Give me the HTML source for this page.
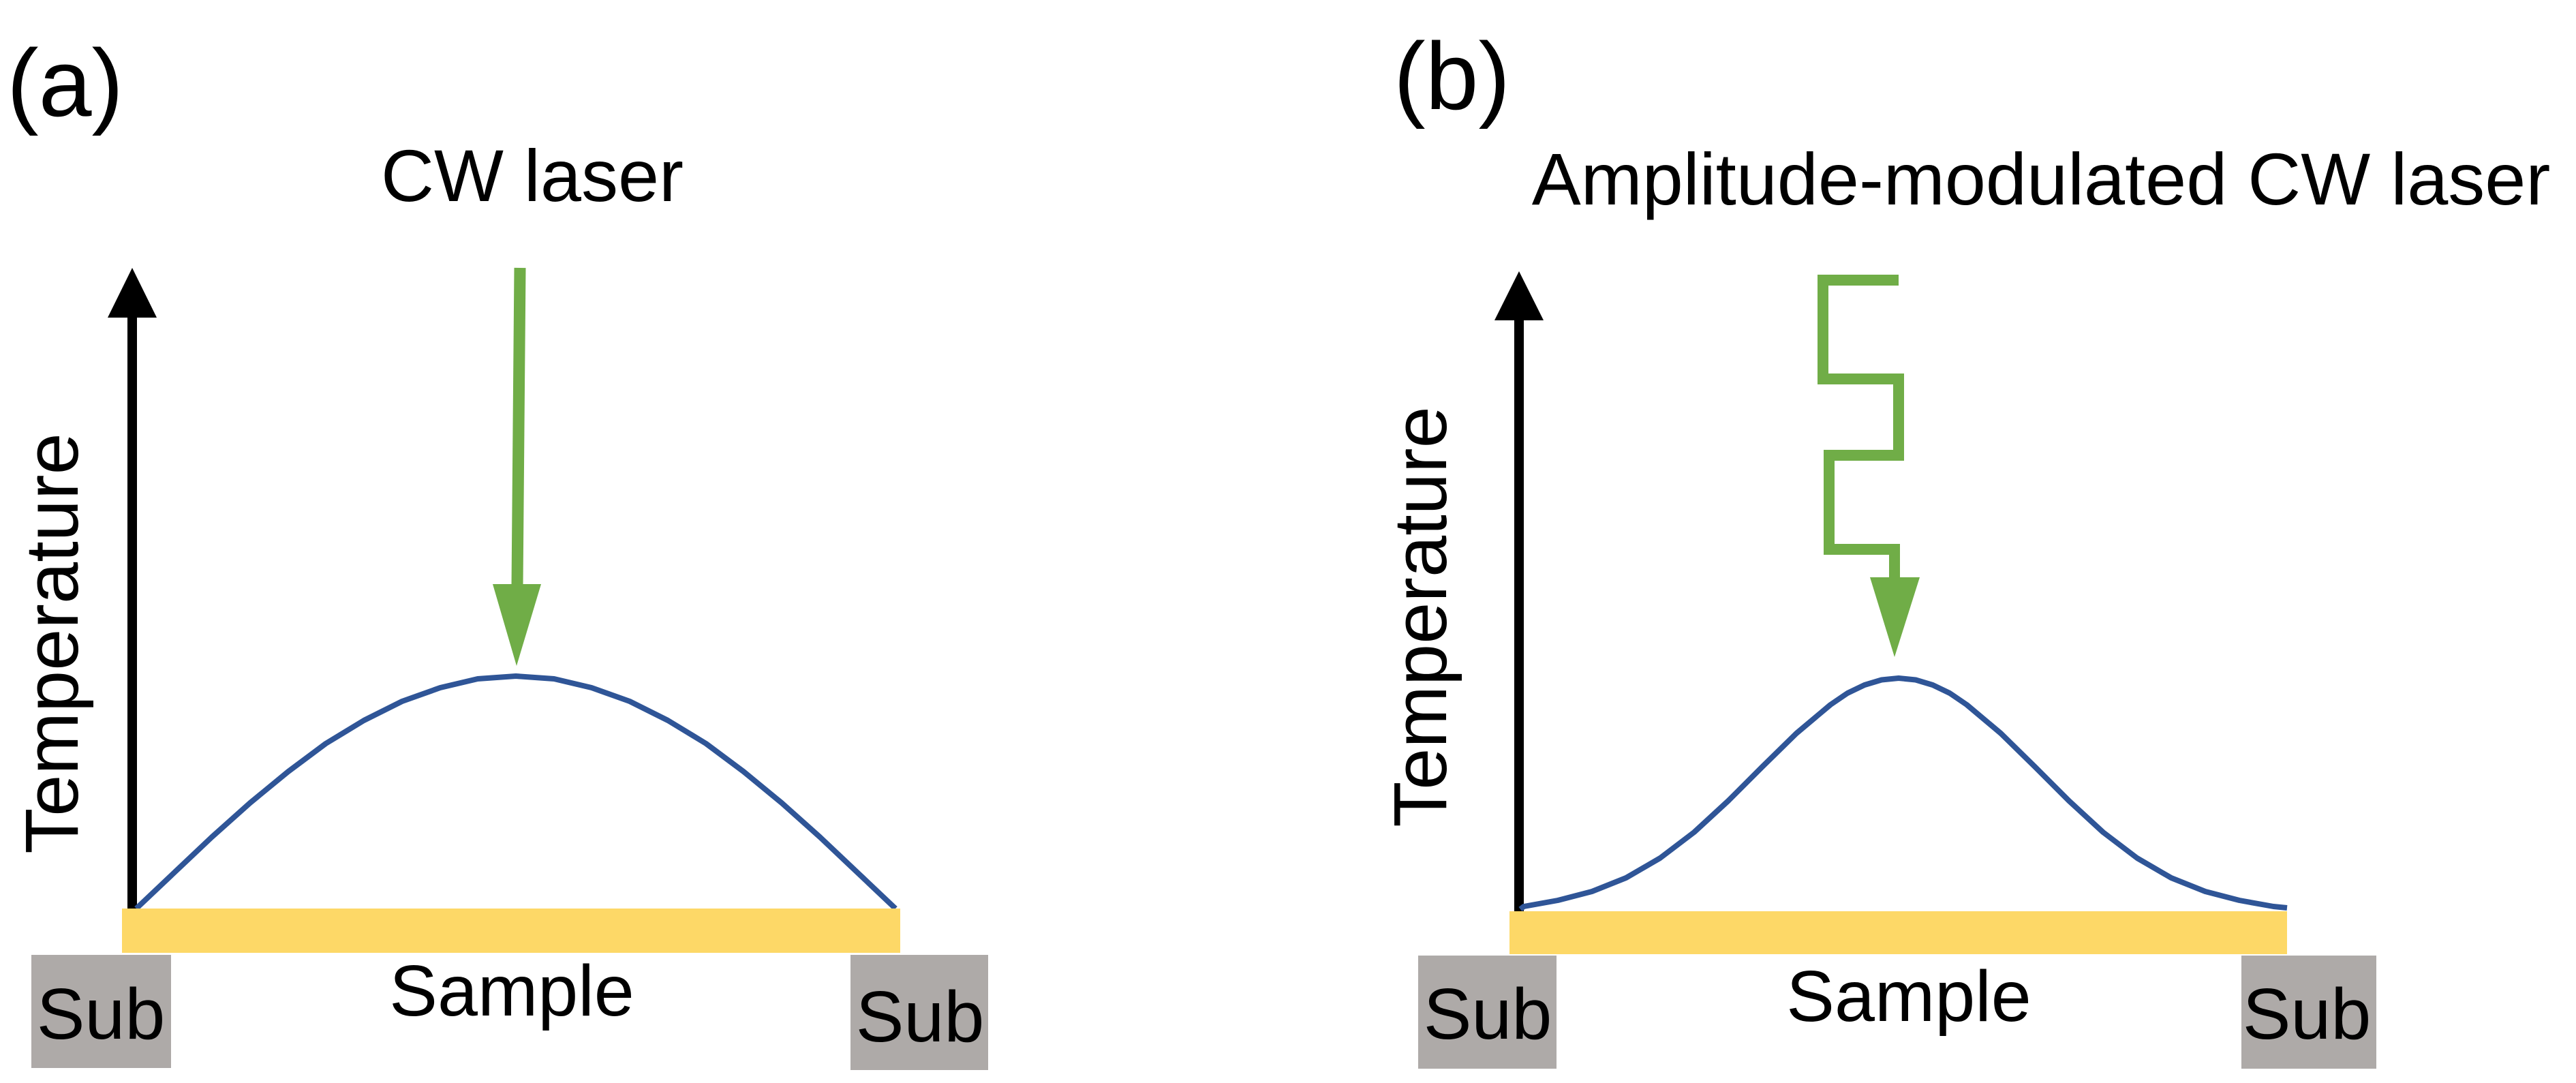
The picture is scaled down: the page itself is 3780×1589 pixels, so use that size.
<!DOCTYPE html>
<html><head><meta charset="utf-8"><style>
html,body{margin:0;padding:0;background:#fff;}
svg{display:block;}
text{font-family:"Liberation Sans",Arial,sans-serif;fill:#000;}
</style></head><body>
<svg width="3780" height="1589" viewBox="0 0 3780 1589" xmlns="http://www.w3.org/2000/svg">
<!-- Panel a -->
<text x="10" y="170" font-size="140">(a)</text>
<text x="781" y="295" font-size="108" text-anchor="middle">CW laser</text>
<line x1="194" y1="450" x2="194" y2="1395" stroke="#000" stroke-width="14"/>
<polygon points="194,393 158,466 230,466" fill="#000"/>
<text transform="translate(114,944) rotate(-90)" font-size="110" text-anchor="middle">Temperature</text>
<line x1="763" y1="393" x2="759" y2="860" stroke="#70AD47" stroke-width="17"/>
<polygon points="723,857 794,857 758,977" fill="#70AD47"/>
<polyline points="200,1333 256,1280 311,1228 367,1178 423,1132 478,1091 534,1057 590,1029 646,1009 701,996 757,992 813,996 868,1009 924,1029 980,1057 1036,1091 1091,1132 1147,1178 1203,1228 1258,1280 1314,1333" fill="none" stroke="#2F5597" stroke-width="8" stroke-linejoin="round"/>
<rect x="179" y="1333" width="1142" height="65" fill="#FDD867"/>
<rect x="46" y="1401" width="205" height="166" fill="#AEAAA8"/>
<rect x="1248" y="1401" width="202" height="169" fill="#AEAAA8"/>
<text x="148" y="1524" font-size="106" text-anchor="middle">Sub</text>
<text x="1350" y="1528" font-size="106" text-anchor="middle">Sub</text>
<text x="751" y="1490" font-size="106" text-anchor="middle">Sample</text>
<!-- Panel b -->
<text x="2045" y="160" font-size="140">(b)</text>
<text x="2995" y="300" font-size="108" text-anchor="middle">Amplitude-modulated CW laser</text>
<line x1="2229" y1="450" x2="2229" y2="1395" stroke="#000" stroke-width="14"/>
<polygon points="2229,398 2193,470 2265,470" fill="#000"/>
<text transform="translate(2122,905) rotate(-90)" font-size="110" text-anchor="middle">Temperature</text>
<polyline points="2786,411 2675,411 2675,556 2786,556 2786,668 2684,668 2684,806 2780,806 2780,850" fill="none" stroke="#70AD47" stroke-width="16"/>
<polygon points="2744,847 2817,847 2780,964" fill="#70AD47"/>
<polyline points="2231,1334 2236,1330 2286,1321 2336,1308 2386,1288 2436,1259 2486,1221 2536,1175 2586,1125 2636,1076 2686,1034 2711,1017 2736,1005 2761,997.5 2786,995 2811,997.5 2836,1005 2861,1017 2886,1034 2936,1076 2986,1125 3036,1175 3086,1221 3136,1259 3186,1288 3236,1308 3286,1321 3336,1330 3356,1332" fill="none" stroke="#2F5597" stroke-width="8" stroke-linejoin="round"/>
<rect x="2215" y="1337" width="1141" height="63" fill="#FDD867"/>
<rect x="2081" y="1402" width="203" height="166" fill="#AEAAA8"/>
<rect x="3289" y="1402" width="198" height="166" fill="#AEAAA8"/>
<text x="2183" y="1524" font-size="106" text-anchor="middle">Sub</text>
<text x="3385" y="1524" font-size="106" text-anchor="middle">Sub</text>
<text x="2801" y="1498" font-size="106" text-anchor="middle">Sample</text>
</svg>
</body></html>
